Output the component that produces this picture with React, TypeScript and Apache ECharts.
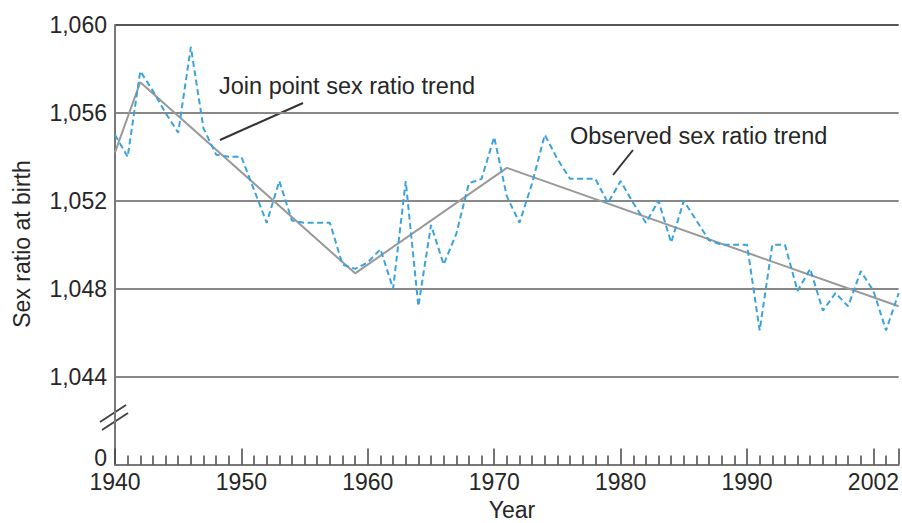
import React, { useEffect, useRef } from 'react';
import * as echarts from 'echarts';

const years = [
  1940, 1941, 1942, 1943, 1944, 1945, 1946, 1947, 1948, 1949,
  1950, 1951, 1952, 1953, 1954, 1955, 1956, 1957, 1958, 1959,
  1960, 1961, 1962, 1963, 1964, 1965, 1966, 1967, 1968, 1969,
  1970, 1971, 1972, 1973, 1974, 1975, 1976, 1977, 1978, 1979,
  1980, 1981, 1982, 1983, 1984, 1985, 1986, 1987, 1988, 1989,
  1990, 1991, 1992, 1993, 1994, 1995, 1996, 1997, 1998, 1999,
  2000, 2001, 2002,
];

const observed = [
  1055.0, 1054.0, 1057.9, 1057.0, 1056.0, 1055.1, 1059.0, 1055.3, 1054.1, 1054.0,
  1054.0, 1052.5, 1051.0, 1052.9, 1051.1, 1051.0, 1051.0, 1051.0, 1049.1, 1048.9,
  1049.2, 1049.8, 1048.0, 1052.9, 1047.2, 1050.9, 1049.1, 1050.5, 1052.8, 1053.0,
  1054.9, 1052.2, 1051.0, 1052.8, 1055.0, 1053.9, 1053.0, 1053.0, 1053.0, 1051.9,
  1052.9, 1051.9, 1051.0, 1052.0, 1050.1, 1052.0, 1051.1, 1050.2, 1050.0, 1050.0,
  1050.0, 1046.1, 1050.0, 1050.0, 1047.9, 1048.9, 1047.0, 1047.8, 1047.2, 1048.8,
  1047.9, 1046.1, 1047.8,
];

const trendYears = [1940, 1942, 1959, 1971, 2002];
const trendValues = [1054.2, 1057.4, 1048.7, 1053.5, 1047.2];

const xLabelOverrides: Record<number, string> = { 2000: '2002' };
const yZeroValue = 1040;

const joinLabel = 'Join point sex ratio trend';
const observedLabel = 'Observed sex ratio trend';
const yTitle = 'Sex ratio at birth';
const xTitle = 'Year';

const FONT = '"Liberation Sans", Arial, Helvetica, sans-serif';
const TEXT = '#262626';
const TICK_FS = 23;
const NOTE_FS = 23.5;

export default function App() {
  const ref = useRef<HTMLDivElement>(null);

  useEffect(() => {
    if (!ref.current) return;
    const chart = echarts.init(ref.current, null, { renderer: 'svg' });

    const obsData = years.map((y, i) => [y, observed[i]]);
    const trendData = trendYears.map((y, i) => [y, trendValues[i]]);

    chart.setOption({
      animation: false,
      backgroundColor: '#fff',
      grid: { left: 115, right: -4, top: 25, bottom: 58.5 },
      xAxis: {
        type: 'value',
        min: 1940,
        max: 2002,
        interval: 10,
        axisLine: { show: true, lineStyle: { color: '#777', width: 2 } },
        axisTick: { show: true, inside: true, length: 16, lineStyle: { color: '#444', width: 1.5 } },
        minorTick: { show: true, splitNumber: 10, length: 9, lineStyle: { color: '#444', width: 1.5 } },
        splitLine: { show: false },
        axisLabel: {
          margin: 6,
          fontSize: TICK_FS,
          fontFamily: FONT,
          color: TEXT,
          formatter: (v: number) => {
            if (xLabelOverrides[v]) return xLabelOverrides[v];
            return v % 10 === 0 ? String(v) : '';
          },
        },
      },
      yAxis: {
        type: 'value',
        min: 1040,
        max: 1060,
        interval: 4,
        axisLine: { show: true, lineStyle: { color: '#777', width: 2 } },
        axisTick: { show: false },
        splitLine: {
          show: true,
          lineStyle: { color: ['#888', '#888', '#888', '#888', '#888', '#555'], width: 2 },
        },
        axisLabel: {
          margin: 8,
          fontSize: TICK_FS,
          fontFamily: FONT,
          color: TEXT,
          formatter: (v: number) => {
            if (v === yZeroValue) return '{z|0}';
            const th = Math.floor(v / 1000);
            const rest = String(v % 1000).padStart(3, '0');
            return `${th},${rest}`;
          },
          rich: {
            z: { fontSize: TICK_FS, fontFamily: FONT, color: TEXT, padding: [0, 0, 14, 0] },
          },
        },
      },
      series: [
        {
          type: 'line',
          data: trendData,
          symbol: 'none',
          lineStyle: { color: '#999', width: 2 },
          z: 2,
        },
        {
          type: 'line',
          data: obsData,
          symbol: 'none',
          lineStyle: { color: '#3ba3dc', width: 2, type: [6, 3.5] },
          z: 3,
        },
      ],
      graphic: [
        {
          type: 'line',
          shape: { x1: 220, y1: 140, x2: 303, y2: 103 },
          style: { stroke: '#333', lineWidth: 2 },
        },
        {
          type: 'line',
          shape: { x1: 613, y1: 175, x2: 633, y2: 150 },
          style: { stroke: '#333', lineWidth: 2 },
        },
        {
          type: 'text',
          left: 219,
          top: 74,
          style: { text: joinLabel, fontSize: NOTE_FS, fontFamily: FONT, fill: TEXT },
        },
        {
          type: 'text',
          left: 570,
          top: 124,
          style: { text: observedLabel, fontSize: NOTE_FS, fontFamily: FONT, fill: TEXT },
        },
        {
          type: 'text',
          x: 22,
          y: 244,
          rotation: Math.PI / 2,
          style: { text: yTitle, fontSize: TICK_FS, fontFamily: FONT, fill: TEXT, align: 'center', verticalAlign: 'middle' },
        },
        {
          type: 'text',
          x: 512,
          y: 510,
          style: { text: xTitle, fontSize: TICK_FS, fontFamily: FONT, fill: TEXT, align: 'center', verticalAlign: 'middle' },
        },
        {
          type: 'line',
          shape: { x1: 100, y1: 422, x2: 126, y2: 405 },
          style: { stroke: '#444', lineWidth: 2 },
        },
        {
          type: 'line',
          shape: { x1: 102, y1: 430, x2: 128, y2: 413 },
          style: { stroke: '#444', lineWidth: 2 },
        },
      ],
    });

    return () => chart.dispose();
  }, []);

  return (
    <div
      ref={ref}
      style={{ position: 'fixed', left: 0, top: 0, width: 902, height: 523 }}
    />
  );
}
